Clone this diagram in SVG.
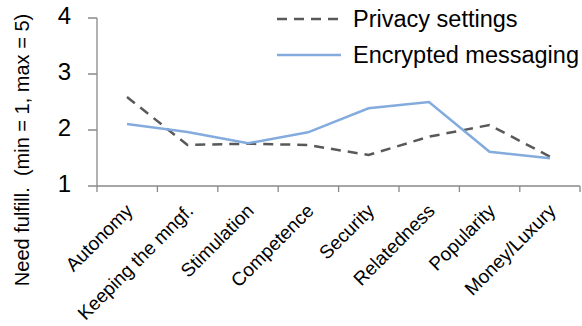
<svg xmlns="http://www.w3.org/2000/svg" width="582" height="326" viewBox="0 0 582 326">
<style>
.axis{stroke:#898989;stroke-width:1.3;fill:none}
.tick{font-family:"Liberation Sans",Arial,sans-serif;font-size:24px;fill:#000;text-anchor:end}
.cat{font-family:"Liberation Sans",Arial,sans-serif;font-size:19px;fill:#000;text-anchor:end}
.leg{font-family:"Liberation Sans",Arial,sans-serif;font-size:23.5px;fill:#000}
.priv{stroke:#595959;stroke-width:2.5;fill:none;stroke-dasharray:10 7}
.enc{stroke:#84ABDD;stroke-width:2.5;fill:none}
</style>
<rect width="582" height="326" fill="#fff"/>
<g id="axes">
<path class="axis" d="M97 18V186H580M88 18H97M88 74H97M88 130H97M88 186H97M97 186V192M157.4 186V192M217.8 186V192M278.2 186V192M338.6 186V192M399 186V192M459.4 186V192M519.8 186V192M580 186V192"/>
<text class="tick" x="71" y="24">4</text>
<text class="tick" x="71" y="80">3</text>
<text class="tick" x="71" y="136">2</text>
<text class="tick" x="71" y="192">1</text>
<text font-family="'Liberation Sans',Arial,sans-serif" font-size="20" text-anchor="middle" style="white-space:pre" transform="translate(29 150) rotate(-90)">Need fulfill.  (min = 1, max = 5)</text>
</g>
<g id="categories">
<text class="cat" transform="translate(134 212) rotate(-45)">Autonomy</text>
<text class="cat" transform="translate(194.5 212) rotate(-45)">Keeping the mngf.</text>
<text class="cat" transform="translate(255 212) rotate(-45)">Stimulation</text>
<text class="cat" transform="translate(315 212) rotate(-45)">Competence</text>
<text class="cat" transform="translate(375.5 212) rotate(-45)">Security</text>
<text class="cat" transform="translate(436 212) rotate(-45)">Relatedness</text>
<text class="cat" transform="translate(496.5 212) rotate(-45)">Popularity</text>
<text class="cat" transform="translate(557 212) rotate(-45)">Money/Luxury</text>
</g>
<g id="connectors">
<polyline id="privacy-settings" class="priv" points="127,97 187.5,145 248,143.7 308,145 368.5,155 429,136.7 489.5,125 550,156.7"/>
<polyline id="encrypted-messaging" class="enc" points="127,124 187.5,132 248,143.3 308,132.3 368.5,108.3 429,102 489.5,151.7 550,158.3"/>
</g>
<g id="legend">
<line class="priv" x1="277" y1="19" x2="341" y2="19"/>
<text class="leg" x="353" y="27">Privacy settings</text>
<line class="enc" x1="277" y1="55" x2="341" y2="55"/>
<text class="leg" x="353" y="63">Encrypted messaging</text>
</g>
</svg>
